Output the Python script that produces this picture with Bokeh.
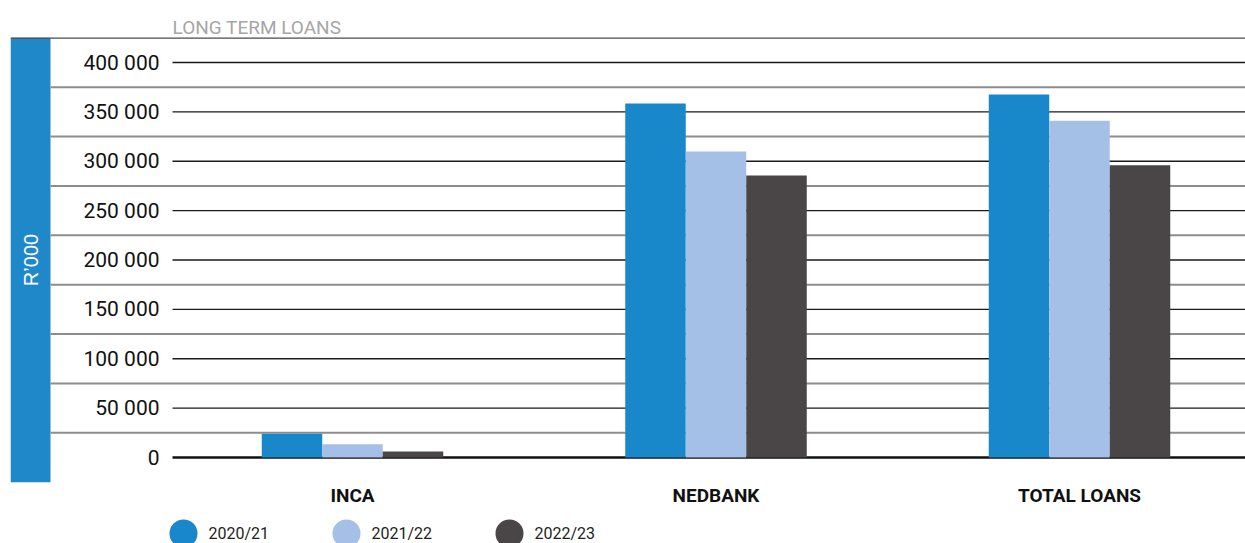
import math

from bokeh.core.properties import value
from bokeh.embed import file_html
from bokeh.layouts import column
from bokeh.models import FixedTicker, Range1d
from bokeh.plotting import figure
from bokeh.resources import INLINE

# ---- data (R'000) ----
categories = ["INCA", "NEDBANK", "TOTAL LOANS"]
years = ["2020/21", "2021/22", "2022/23"]
loans_2020_21 = [24000, 358500, 367500]
loans_2021_22 = [13500, 310000, 341000]
loans_2022_23 = [6000, 285500, 296000]
y_ticks = [0, 50000, 100000, 150000, 200000, 250000, 300000, 350000, 400000]
y_label = "R\u2019000"
title = "LONG TERM LOANS"

series = [loans_2020_21, loans_2021_22, loans_2022_23]
colors = ["#1888ca", "#a4c0e6", "#4a4647"]
band_color = "#1f88c9"

FONT = "Roboto"

# ---- page geometry ----
W = 1245
PAGE_H = 543
FRAME_LEFT, FRAME_TOP, FRAME_BOTTOM = 10, 37, 483
MAIN_H = FRAME_BOTTOM
FOOT_H = PAGE_H - FRAME_BOTTOM

# horizontal: category i is centred at GROUP0 + i * GROUP_STEP page pixels
GROUP0, GROUP_STEP = 352.0, 363.5
BAR_PX = 60.5


def px_x(px):
    return (px - GROUP0) / GROUP_STEP


# vertical: value 0 sits at page y=457, 400 000 at y=62
Y0_PX, PX_PER_UNIT = 457.0, 395.0 / 400000


def px_y(py):
    return (Y0_PX - py) / PX_PER_UNIT


x_range = Range1d(px_x(FRAME_LEFT), px_x(W))

p = figure(
    width=W, height=MAIN_H,
    x_range=x_range,
    y_range=Range1d(px_y(FRAME_BOTTOM), px_y(FRAME_TOP)),
    output_backend="svg", toolbar_location=None,
    x_axis_location=None,
    min_border_left=FRAME_LEFT, min_border_right=0,
    min_border_top=FRAME_TOP, min_border_bottom=0,
    outline_line_color=None, title=title,
)
p.xgrid.visible = False
p.ygrid.visible = False

# title
p.title.text_font = FONT
p.title.text_font_size = "19px"
p.title.text_font_style = "normal"
p.title.text_color = "#a7a5a6"
p.title.align = "left"
p.title.offset = 162
p.title.standoff = -3

# blue band holding the unit label
step = y_ticks[1] - y_ticks[0]
half = step / 2
p.quad(left=px_x(10), right=px_x(50), bottom=y_ticks[0] - half,
       top=y_ticks[-1] + half, color=band_color, line_color=None)
p.text(x=[px_x(30)], y=[(y_ticks[0] + y_ticks[-1]) / 2], text=[y_label],
       angle=math.pi / 2, text_align="center", text_baseline="middle",
       text_color="white", text_font=value("Liberation Sans"),
       text_font_size="20px")

# half-step rules (grey) starting at the band edge
mid_vals = [t + half for t in y_ticks[:-1]]
p.segment(x0=px_x(50), x1=px_x(W), y0=mid_vals, y1=mid_vals,
          line_color="#8d8d8d", line_width=2)
p.segment(x0=px_x(10), x1=px_x(W), y0=[y_ticks[-1] + half], y1=[y_ticks[-1] + half],
          line_color="#4a4a4a", line_width=2)

# tick rules (black) starting right of the tick labels
p.segment(x0=px_x(172), x1=px_x(W), y0=y_ticks[1:], y1=y_ticks[1:],
          line_color="#1a1a1a", line_width=1.3)
p.segment(x0=px_x(172), x1=px_x(W), y0=[y_ticks[0]], y1=[y_ticks[0]],
          line_color="#111111", line_width=2.4)

# grouped bars
bar_w = BAR_PX / GROUP_STEP
for j, (vals, col) in enumerate(zip(series, colors)):
    xs = [i + (j - 1) * bar_w for i in range(len(categories))]
    p.vbar(x=xs, top=vals, bottom=0, width=bar_w, color=col, line_color=None)

# y axis: labels sit inside the frame, right-aligned before the rules
p.yaxis.ticker = FixedTicker(ticks=y_ticks)
p.yaxis.major_label_overrides = {t: f"{t:,}".replace(",", " ") for t in y_ticks}
p.yaxis.major_label_standoff = -155
p.yaxis.axis_line_color = None
p.yaxis.major_tick_line_color = None
p.yaxis.minor_tick_line_color = None
p.yaxis.major_label_text_font = FONT
p.yaxis.major_label_text_font_size = "21px"
p.yaxis.major_label_text_color = "#111111"

# ---- footer strip: category names and series key ----
# y in this strip counts page pixels upward from the bottom of the page
LEG0, LEG_STEP = 183, 163
q = figure(
    width=W, height=FOOT_H,
    x_range=x_range, y_range=Range1d(0, FOOT_H),
    output_backend="svg", toolbar_location=None,
    x_axis_location=None, y_axis_location=None,
    min_border=0, min_border_left=FRAME_LEFT, min_border_right=0,
    min_border_top=0, min_border_bottom=0, outline_line_color=None,
)
q.xgrid.visible = False
q.ygrid.visible = False

q.text(x=list(range(len(categories))), y=[PAGE_H - 494.5] * len(categories),
       text=categories, text_align="center", text_baseline="middle",
       text_color="#111111", text_font=value(FONT), text_font_size="19px",
       text_font_style="bold")

lx = [px_x(LEG0 + j * LEG_STEP) for j in range(len(years))]
q.scatter(x=lx, y=[PAGE_H - 533] * len(years), size=28,
          color=colors, line_color=None)
q.text(x=[px_x(LEG0 + 25 + j * LEG_STEP) for j in range(len(years))],
       y=[PAGE_H - 533] * len(years), text=years,
       text_align="left", text_baseline="middle", text_color="#231f20",
       text_font=value(FONT), text_font_size="16px")

layout = column(p, q, spacing=0)
open("out.html", "w").write(file_html(layout, INLINE))
